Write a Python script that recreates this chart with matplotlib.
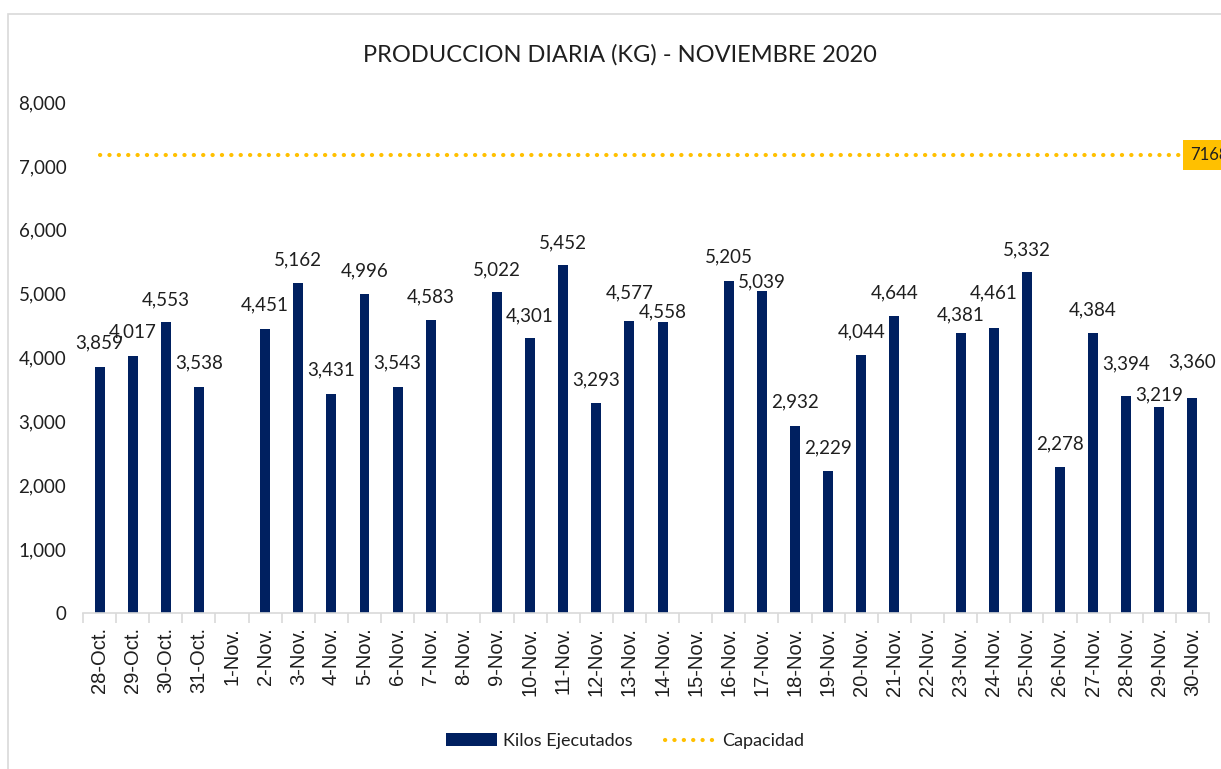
import numpy as np
import matplotlib
matplotlib.use("Agg")
import matplotlib.pyplot as plt
from matplotlib.patches import Patch, Rectangle
from matplotlib.lines import Line2D
from matplotlib.ticker import FuncFormatter, FixedLocator

# ---- data ----
categories = ["28-Oct.", "29-Oct.", "30-Oct.", "31-Oct.", "1-Nov.", "2-Nov.", "3-Nov.",
              "4-Nov.", "5-Nov.", "6-Nov.", "7-Nov.", "8-Nov.", "9-Nov.", "10-Nov.",
              "11-Nov.", "12-Nov.", "13-Nov.", "14-Nov.", "15-Nov.", "16-Nov.", "17-Nov.",
              "18-Nov.", "19-Nov.", "20-Nov.", "21-Nov.", "22-Nov.", "23-Nov.", "24-Nov.",
              "25-Nov.", "26-Nov.", "27-Nov.", "28-Nov.", "29-Nov.", "30-Nov."]
kilos = [3859, 4017, 4553, 3538, None, 4451, 5162, 3431, 4996, 3543, 4583, None,
         5022, 4301, 5452, 3293, 4577, 4558, None, 5205, 5039, 2932, 2229, 4044,
         4644, None, 4381, 4461, 5332, 2278, 4384, 3394, 3219, 3360]
capacidad = 7168
title = "PRODUCCION DIARIA (KG) - NOVIEMBRE 2020"
series_names = ["Kilos Ejecutados", "Capacidad"]

# label vertical offsets above bar tops (pixels), as placed in the reference
label_dy_px = [24, 25, 22, 24, 0, 24, 23, 24, 23, 24, 23, 0, 22, 22, 22, 23, 28, 10, 0,
               24, 9, 24, 23, 23, 23, 0, 18, 35, 23, 24, 23, 32, 13, 37]

NAVY = "#002060"
GOLD = "#FFC000"
TXT = "#1f1f1f"
FONT = "Lato"

W, H = 1221, 769
fig = plt.figure(figsize=(W / 100, H / 100), dpi=100)
fig.patch.set_facecolor("white")

# outer chart border
fig.add_artist(Rectangle((8 / W, -0.05), 1.2, (H - 14) / H + 0.05, transform=fig.transFigure,
                         fill=False, edgecolor="#D9D9D9", linewidth=1.2))

ax = fig.add_axes([83 / W, 1 - 613 / H, (1209 - 83) / W, (613 - 102) / H])

x = np.arange(len(categories))
vals = np.array([np.nan if v is None else v for v in kilos], dtype=float)
ax.bar(x, np.nan_to_num(vals), width=0.3, color=NAVY, zorder=2)

# capacity line
cap = np.full(len(categories), capacidad, dtype=float)
ax.plot(x, cap, color=GOLD, linewidth=3.0, linestyle=(0, (0.05, 2.2)),
        dash_capstyle="round", zorder=3)
ax.annotate(f"{capacidad}", xy=(x[-1], capacidad), xytext=(-1.5, 0), textcoords="offset points",
            ha="left", va="center", fontsize=12, family=FONT, color=TXT,
            bbox=dict(boxstyle="square,pad=0.42", fc=GOLD, ec="none"),
            annotation_clip=False, zorder=5)

# data labels
for xi, v, dy in zip(x, kilos, label_dy_px):
    if v is None:
        continue
    ax.annotate(f"{v:,}", xy=(xi, v), xytext=(0, dy * 0.72), textcoords="offset points",
                ha="center", va="center", fontsize=13.5, family=FONT, color=TXT, zorder=4)

ax.set_xlim(-0.5, len(categories) - 0.5)
ax.set_ylim(0, 8000)
ax.set_yticks(np.arange(0, 8001, 1000))
ax.yaxis.set_major_formatter(FuncFormatter(lambda v, p: f"{int(v):,}"))
ax.tick_params(axis="y", length=0, pad=12, labelsize=13.5, labelcolor=TXT)
for lab in ax.get_yticklabels():
    lab.set_family(FONT)

ax.set_xticks(x)
ax.set_xticklabels(categories, rotation=90, family="Liberation Sans", fontsize=14.5, color=TXT)
ax.tick_params(axis="x", which="major", length=0, pad=10)
ax.xaxis.set_minor_locator(FixedLocator(np.arange(-0.5, len(categories), 1.0)))
ax.tick_params(axis="x", which="minor", length=7, width=1.2, color="#D9D9D9")

for s in ["top", "right", "left"]:
    ax.spines[s].set_visible(False)
ax.spines["bottom"].set_color("#D9D9D9")
ax.spines["bottom"].set_linewidth(1.2)

fig.text(0.508, 1 - 55 / H, title, ha="center", va="center", fontsize=17, family=FONT,
         color=TXT)

handles = [Patch(facecolor=NAVY, edgecolor="none"),
           Line2D([0], [0], color=GOLD, linewidth=3.0, linestyle=(0, (0.05, 2.2)),
                  dash_capstyle="round")]
fig.legend(handles, series_names, loc="center", bbox_to_anchor=(0.512, 1 - 741 / H), ncol=2,
           frameon=False, prop={"family": FONT, "size": 13}, handlelength=2.8,
           handleheight=0.7, columnspacing=1.8, handletextpad=0.35, labelcolor=TXT)

fig.savefig("out.png", dpi=100, facecolor="white")
